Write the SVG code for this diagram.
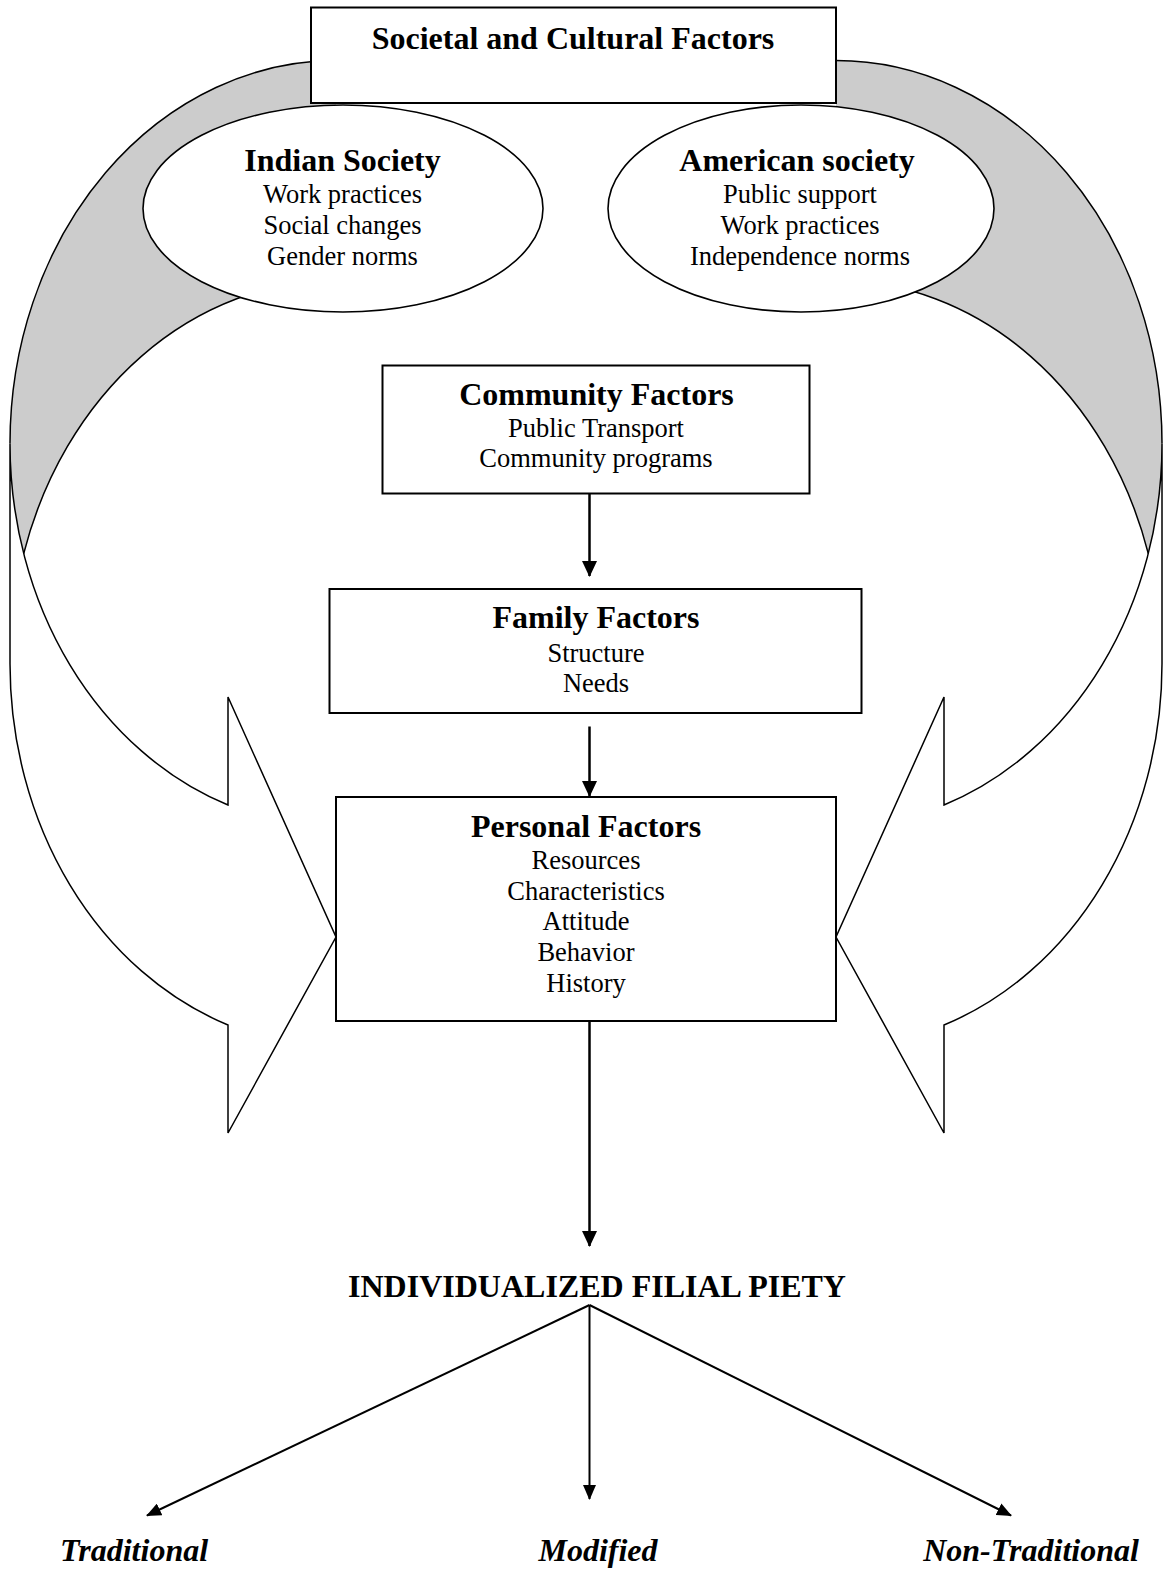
<svg xmlns="http://www.w3.org/2000/svg" width="1167" height="1571" viewBox="0 0 1167 1571">
<style>
  .bg{fill:#ffffff}
  .band{fill:#cccccc;stroke:none}
  .front{fill:#ffffff;stroke:#000;stroke-width:1.5;stroke-linejoin:miter}
  .edge{fill:none;stroke:#000;stroke-width:1.5}
  .box{fill:#ffffff;stroke:#000;stroke-width:2}
  .oval{fill:#ffffff;stroke:#000;stroke-width:1.6}
  .conn{fill:none;stroke:#000;stroke-width:2.5}
  .thin{fill:none;stroke:#000;stroke-width:2}
  text{font-family:"Liberation Serif","Times New Roman",serif;fill:#000;text-anchor:middle}
  .h{font-size:32px;font-weight:bold}
  .r{font-size:26.5px}
  .hi{font-size:32px;font-weight:bold;font-style:italic}
</style>
<defs>
  <marker id="ah" markerUnits="userSpaceOnUse" markerWidth="16" markerHeight="15" viewBox="0 0 16 15" refX="15" refY="7.5" orient="auto">
    <path d="M0,0 L16,7.5 L0,15 Z" fill="#000"/>
  </marker>
  <marker id="ahs" markerUnits="userSpaceOnUse" markerWidth="15" markerHeight="13" viewBox="0 0 15 13" refX="14" refY="6.5" orient="auto">
    <path d="M0,0 L15,6.5 L0,13 Z" fill="#000"/>
  </marker>
  <g id="curvedArrow">
    <path class="band" d="M336 60.6 A326 383 0 0 0 23.7 553.6 A326 383 0 0 1 336 280.6 Z"/>
    <path class="edge" d="M336 60.6 A326 383 0 0 0 10 443.6"/>
    <path class="edge" d="M336 280.6 A326 383 0 0 0 23.7 553.6"/>
    <path class="front" d="M10 443.6 A326 383 0 0 0 228 805 L228 697 L336 937 L228 1133 L228 1025 A326 383 0 0 1 10 663.6 Z"/>
  </g>
</defs>
<rect class="bg" x="0" y="0" width="1167" height="1571"/>

<g id="curved-arrow-left">
  <use href="#curvedArrow"/>
</g>
<g id="curved-arrow-right">
  <use href="#curvedArrow" transform="translate(1172,0) scale(-1,1)"/>
</g>

<g id="societal">
  <rect class="box" x="311" y="7.5" width="525" height="95.5"/>
  <text class="h" x="573" y="49">Societal and Cultural Factors</text>
</g>

<g id="indian">
  <ellipse class="oval" cx="343" cy="208.5" rx="200" ry="103.5"/>
  <text class="h" x="342.5" y="171">Indian Society</text>
  <text class="r" x="342.5" y="202.5">Work practices</text>
  <text class="r" x="342.5" y="233.5">Social changes</text>
  <text class="r" x="342.5" y="264.5">Gender norms</text>
</g>

<g id="american">
  <ellipse class="oval" cx="801" cy="208.5" rx="193" ry="103.5"/>
  <text class="h" x="797" y="171">American society</text>
  <text class="r" x="800" y="202.5">Public support</text>
  <text class="r" x="800" y="233.5">Work practices</text>
  <text class="r" x="800" y="264.5">Independence norms</text>
</g>

<g id="community">
  <rect class="box" x="382.5" y="365.5" width="427" height="128"/>
  <text class="h" x="596.5" y="405">Community Factors</text>
  <text class="r" x="596" y="437">Public Transport</text>
  <text class="r" x="596" y="467">Community programs</text>
</g>

<g id="family">
  <rect class="box" x="329.5" y="589" width="532" height="124"/>
  <text class="h" x="596" y="628">Family Factors</text>
  <text class="r" x="596" y="661.5">Structure</text>
  <text class="r" x="596" y="691.5">Needs</text>
</g>

<g id="personal">
  <rect class="box" x="336" y="797" width="500" height="224"/>
  <text class="h" x="586" y="837">Personal Factors</text>
  <text class="r" x="586" y="869">Resources</text>
  <text class="r" x="586" y="899.5">Characteristics</text>
  <text class="r" x="586" y="930">Attitude</text>
  <text class="r" x="586" y="961">Behavior</text>
  <text class="r" x="586" y="991.5">History</text>
</g>

<g id="outcome">
  <text class="h" x="597" y="1297">INDIVIDUALIZED FILIAL PIETY</text>
</g>
<g id="traditional">
  <text class="hi" x="134" y="1561">Traditional</text>
</g>
<g id="modified">
  <text class="hi" x="598" y="1561">Modified</text>
</g>
<g id="non-traditional">
  <text class="hi" x="1031" y="1561">Non-Traditional</text>
</g>

<g id="connectors">
  <line class="conn" x1="589.5" y1="493.5" x2="589.5" y2="576" marker-end="url(#ah)"/>
  <line class="conn" x1="589.5" y1="726.5" x2="589.5" y2="796" marker-end="url(#ah)"/>
  <line class="conn" x1="589.5" y1="1021" x2="589.5" y2="1246" marker-end="url(#ah)"/>
  <line class="thin" x1="589.5" y1="1305" x2="147" y2="1515.5" marker-end="url(#ahs)"/>
  <line class="thin" x1="589.5" y1="1305" x2="589.5" y2="1499" marker-end="url(#ahs)"/>
  <line class="thin" x1="589.5" y1="1305" x2="1011" y2="1515.5" marker-end="url(#ahs)"/>
</g>
</svg>
